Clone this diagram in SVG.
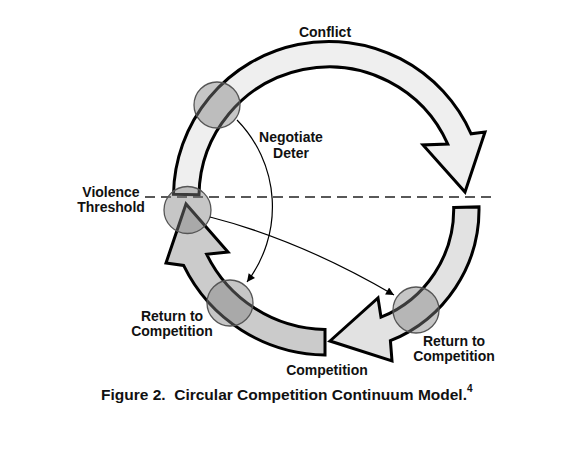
<svg xmlns="http://www.w3.org/2000/svg" width="580" height="465" viewBox="0 0 580 465">
<style>
.lbl{font-family:"Liberation Sans",Arial,sans-serif;font-weight:bold;font-size:14px;fill:#111;text-anchor:middle}
.cap{font-family:"Liberation Sans",Arial,sans-serif;font-weight:bold;font-size:15.5px;fill:#111}
.arr{stroke:#000;stroke-width:3;stroke-linejoin:miter}
.mark{fill:#808080;fill-opacity:0.45;stroke:#555;stroke-width:1.3}
.conn{fill:none;stroke:#000;stroke-width:1.2}
</style>
<defs>
<marker id="ah" viewBox="0 0 10 10" refX="10" refY="5" markerWidth="10" markerHeight="8" markerUnits="userSpaceOnUse" orient="auto">
<path d="M0,0 L10,5 L0,10 Z" fill="#000"/>
</marker>
</defs>
<rect width="580" height="465" fill="#fff"/>
<line id="threshold-line" x1="145" y1="197" x2="492" y2="197" stroke="#222" stroke-width="1.3" stroke-dasharray="10,6"/>
<g id="conflict-arrow">
<path class="arr" fill="#efefef" d="M199,194.7 L173.5,194.3 A155.5,155.5 0 0 1 471.1,133.8 L485,132 L465,192 L423,145 L447.8,144.1 A130,130 0 0 0 199,194.7 Z"/>
</g>
<g id="return-arrow-right">
<path class="arr" fill="#e2e2e2" d="M453.7,207.4 L479,206.9 A141.6,141.6 0 0 1 390.4,340.7 L392,361 L330,341 L378,298 L381,317.2 A116.3,116.3 0 0 0 453.7,207.4 Z"/>
</g>
<g id="competition-arrow">
<path class="arr" fill="#cbcbcb" d="M325,329.5 L325,355 A159.5,159.5 0 0 1 183.6,265.4 L166,263 L186,204 L228,252 L206.6,254.2 A134,134 0 0 0 325,329.5 Z"/>
</g>
<g id="marker-negotiate"><circle class="mark" cx="217" cy="105" r="23"/></g>
<g id="marker-threshold"><circle class="mark" cx="187.5" cy="210" r="23.5"/></g>
<g id="marker-return-left"><circle class="mark" cx="230" cy="303" r="23"/></g>
<g id="marker-return-right"><circle class="mark" cx="416" cy="310" r="23"/></g>
<g id="connectors">
<path class="conn" d="M237,120 A124,124 0 0 1 247,282" marker-end="url(#ah)"/>
<path class="conn" d="M210,217 Q300,240 394,295" marker-end="url(#ah)"/>
</g>
<g id="labels">
<text class="lbl" x="325" y="37">Conflict</text>
<text class="lbl" x="291" y="142">Negotiate</text>
<text class="lbl" x="291" y="158">Deter</text>
<text class="lbl" x="111" y="197">Violence</text>
<text class="lbl" x="111" y="212">Threshold</text>
<text class="lbl" x="172" y="321">Return to</text>
<text class="lbl" x="172" y="336">Competition</text>
<text class="lbl" x="327" y="375">Competition</text>
<text class="lbl" x="454" y="346">Return to</text>
<text class="lbl" x="454" y="361">Competition</text>
</g>
<g id="caption">
<text class="cap" x="101" y="400" xml:space="preserve">Figure 2.  Circular Competition Continuum Model.<tspan dy="-8" font-size="10">4</tspan></text>
</g>
</svg>
